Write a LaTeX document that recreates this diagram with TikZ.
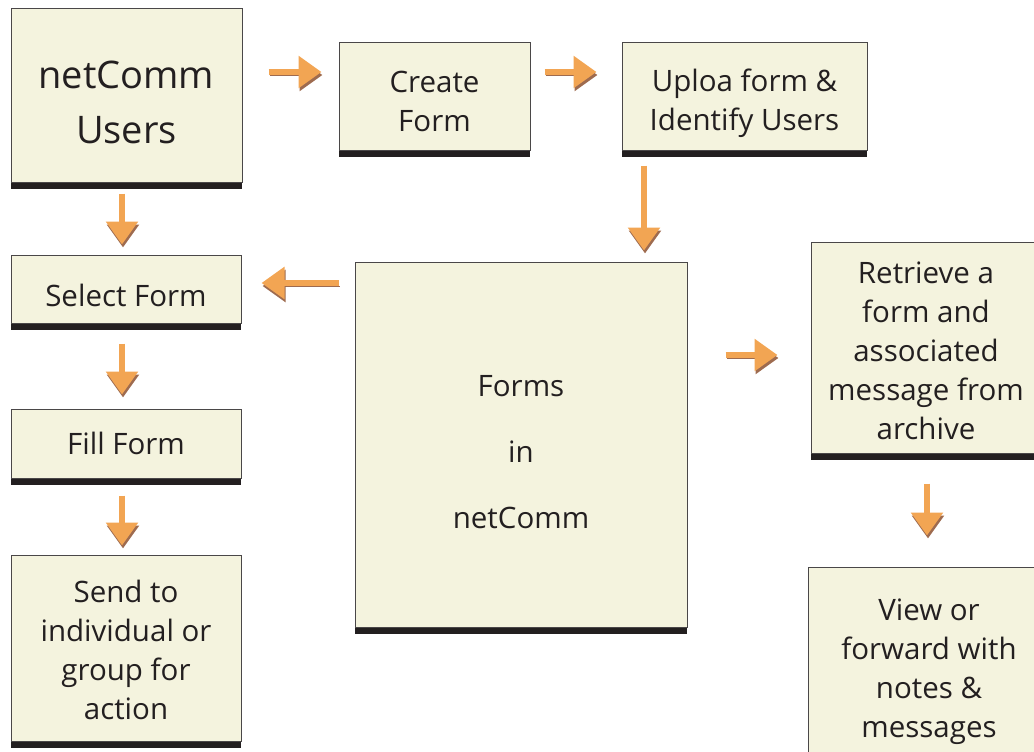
\documentclass[tikz,border=0pt]{standalone}
\usepackage{fontspec}
\setmainfont{Open Sans}
\usetikzlibrary{arrows.meta,shadows}

\definecolor{boxfill}{HTML}{F4F3DE}
\definecolor{boxline}{HTML}{4A4748}
\definecolor{ink}{HTML}{231F20}
\definecolor{arroworange}{HTML}{F2A553}
\definecolor{arrowbrown}{HTML}{9E6B4F}

\tikzset{
  box/.style={draw=boxline, line width=1pt, fill=boxfill, inner sep=0pt,
    general shadow={fill=ink, shadow yshift=-7pt}},
  boxtext/.style={text=ink, align=center, inner sep=0pt,
    font=\fontsize{29.5}{39}\selectfont},
  flow/.style={draw=arroworange, line width=6pt, -{Triangle[width=31pt,length=23pt]},
    preaction={draw=arrowbrown, transform canvas={xshift=1pt,yshift=-3pt}}}
}

\begin{document}
\begin{tikzpicture}[x=1pt, y=-1pt]
  \useasboundingbox (0,0) rectangle (1034,752);

    %%top row
    \node[box, minimum width=231, minimum height=173,
      label={[boxtext, yshift=-7pt, font=\fontsize{38}{55}\selectfont]center:netComm\\Users}]
      (users) at (126.5, 95.5) {};
    \node[box, minimum width=191, minimum height=107,
      label={[boxtext, yshift=-5pt]center:Create\\Form}] (create) at (434.5, 96.5) {};
    \node[box, minimum width=245, minimum height=107,
      label={[boxtext, yshift=-7pt]center:Uploa form \&\\Identify Users}] (upload) at (744.5, 96.5) {};

    %%left column
    \node[box, minimum width=230, minimum height=68,
      label={[boxtext, yshift=-6pt]center:Select Form}] (select) at (126, 289) {};
    \node[box, minimum width=230, minimum height=69,
      label={[boxtext]center:Fill Form}] (fill) at (126, 443.5) {};
    \node[box, minimum width=230, minimum height=186,
      label={[boxtext, yshift=-2pt]center:Send to\\individual or\\group for\\action}] (send) at (126, 648) {};

    %%middle
    \node[box, minimum width=332, minimum height=365,
      label={[boxtext, yshift=-8pt, font=\fontsize{29.5}{66}\selectfont]center:Forms\\in\\netComm}]
      (forms) at (521, 444.5) {};

    %%right column
    \node[box, minimum width=230, minimum height=211,
      label={[boxtext, yshift=-3pt]center:Retrieve a\\form and\\associated\\message from\\archive}]
      (retrieve) at (926, 347.5) {};
    \node[box, minimum width=242, minimum height=223,
      label={[boxtext, yshift=7pt]center:View or\\forward with\\notes \&\\messages}]
      (view) at (929, 678.5) {};

    %%arrows
    \draw[flow, shorten <=26pt, shorten >=17pt] ([yshift=23.5pt]users.east) -- ([yshift=24.5pt]create.west);
    \draw[flow, shorten <=14pt, shorten >=25pt] ([yshift=24.5pt]create.east) -- ([yshift=24.5pt]upload.west);
    \draw[flow, shorten <=11pt, shorten >=10pt] ([xshift=-4.5pt]users.south) -- ([xshift=-4pt]select.north);
    \draw[flow, shorten <=15pt, shorten >=11pt] ([xshift=-100.5pt]upload.south) -- ([xshift=-100.5pt]upload.south |- forms.north);
    \draw[flow, shorten <=16pt, shorten >=20pt] ([yshift=161.5pt]forms.west) -- ([yshift=6pt]select.east);
    \draw[flow, shorten <=20pt, shorten >=14pt] ([xshift=-4pt]select.south) -- ([xshift=-4pt]fill.north);
    \draw[flow, shorten <=17pt, shorten >=9pt] ([xshift=-4pt]fill.south) -- ([xshift=-4pt]send.north);
    \draw[flow, shorten <=38pt, shorten >=33pt] ([yshift=89.5pt]forms.east) -- ([yshift=-7.5pt]retrieve.west);
    \draw[flow, shorten <=30pt, shorten >=31pt] ([xshift=1pt]retrieve.south) -- ([xshift=-2pt]view.north);

\end{tikzpicture}
\end{document}
